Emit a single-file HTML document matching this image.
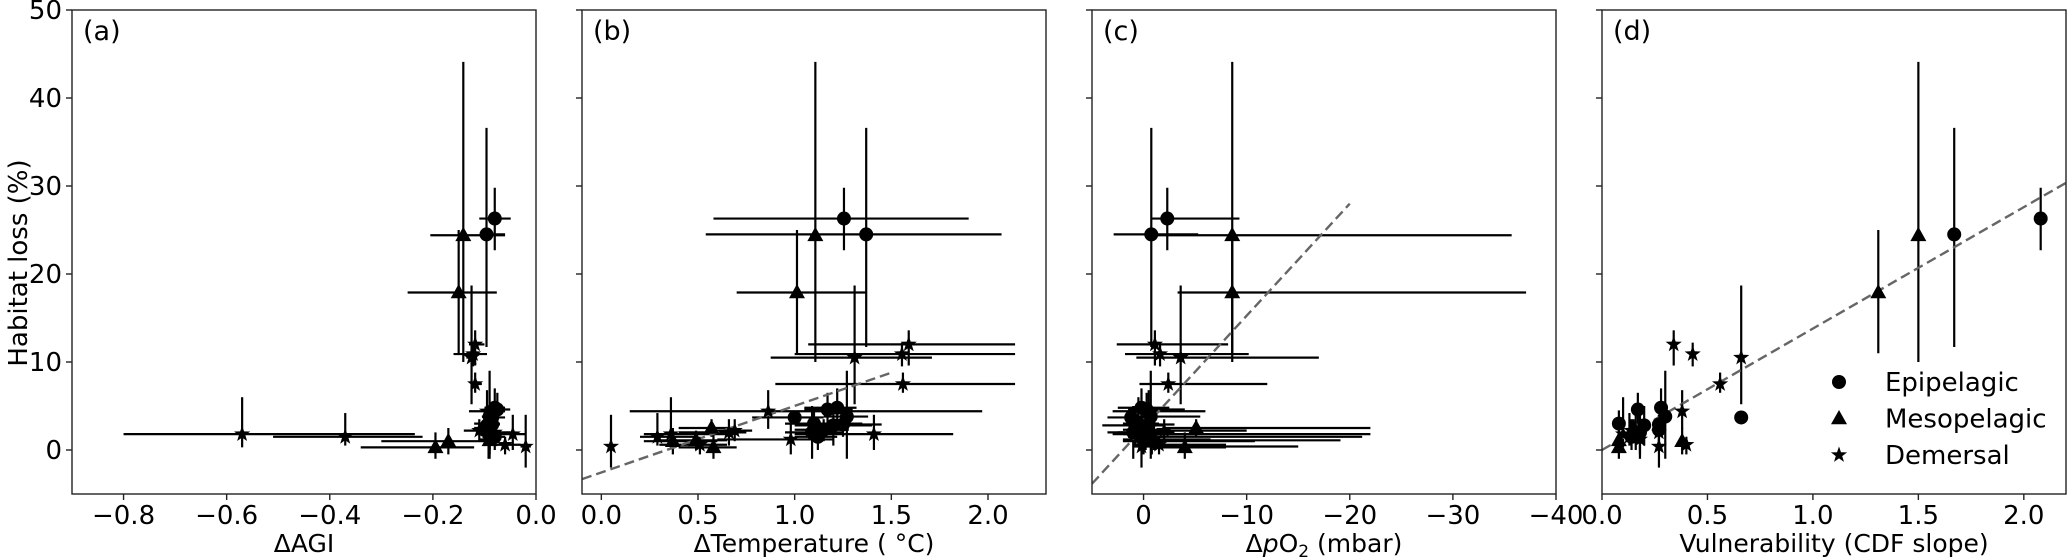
<!DOCTYPE html>
<html><head><meta charset="utf-8"><style>
html,body{margin:0;padding:0;background:#fff;}
svg{display:block;font-family:"DejaVu Sans","Liberation Sans",sans-serif;}
</style></head><body>
<svg id="chart" width="2067" height="559" viewBox="0 0 2067 559" xmlns="http://www.w3.org/2000/svg">
<text x="0" y="0" font-size="26" text-anchor="middle" transform="translate(27,263) rotate(-90)">Habitat loss (%)</text>
</svg>
<script>
// ---- data ----
const types = ['E','E','M','M','D','D','D','D','D','E','E','E','E','E','E','E','E','E','E','M','M','M','M','D','D','D','D','D','D','D','D'];
const loss   = [26.3,24.5,24.4,17.9,12.0,10.9,10.5,7.5,4.4,3.7,3.0,4.6,2.8,2.9,4.8,3.8,2.3,2.0,1.5,0.3,1.0,2.5,1.1,1.8,1.5,0.4,1.8,0.6,2.0,1.2,2.2];
const lossLo = [22.7,11.7,10.0,11.0,9.6,9.5,5.2,6.5,2.4,3.0,1.5,3.0,0.5,1.5,2.5,-1.0,1.0,-1.0,0.0,-1.0,-0.5,1.5,0.0,0.3,0.5,-2.0,0.0,-0.5,0.5,-0.5,1.0];
const lossHi = [29.8,36.6,44.1,25.0,13.6,12.2,18.7,8.8,6.8,4.4,4.5,6.5,5.0,4.0,7.0,9.0,3.5,5.0,3.0,2.0,2.5,3.5,2.2,6.0,4.2,4.0,4.0,1.5,3.5,3.0,3.5];
const agi    = [-0.080,-0.096,-0.141,-0.150,-0.118,-0.122,-0.125,-0.118,-0.095,-0.085,-0.090,-0.075,-0.095,-0.085,-0.080,-0.090,-0.100,-0.092,-0.080,-0.195,-0.170,-0.100,-0.090,-0.570,-0.370,-0.020,-0.045,-0.060,-0.080,-0.090,-0.110];
const agiLo  = [-0.110,-0.105,-0.205,-0.249,-0.130,-0.160,-0.135,-0.125,-0.130,-0.100,-0.120,-0.090,-0.110,-0.100,-0.100,-0.105,-0.120,-0.110,-0.100,-0.340,-0.300,-0.120,-0.110,-0.800,-0.510,-0.030,-0.080,-0.080,-0.100,-0.110,-0.140];
const agiHi  = [-0.049,-0.060,-0.060,-0.076,-0.100,-0.095,-0.115,-0.105,-0.060,-0.060,-0.070,-0.050,-0.080,-0.070,-0.060,-0.075,-0.080,-0.075,-0.060,-0.120,-0.100,-0.080,-0.070,-0.235,-0.220,-0.010,-0.020,-0.030,-0.050,-0.070,-0.080];
const temp   = [1.255,1.37,1.107,1.012,1.59,1.555,1.31,1.56,0.863,1.00,1.10,1.17,1.20,1.25,1.22,1.27,1.15,1.09,1.12,0.58,0.37,0.57,0.49,0.36,0.29,0.05,1.41,0.51,0.66,0.98,0.69];
const tempLo = [0.58,0.54,1.08,0.70,1.07,1.00,0.876,0.90,0.147,0.78,0.95,1.05,1.00,1.10,1.05,1.15,1.00,0.95,1.00,0.40,0.22,0.40,0.30,0.22,0.20,0.05,1.00,0.30,0.40,0.60,0.55];
const tempHi = [1.90,2.07,1.13,1.37,2.14,2.14,1.71,2.14,1.97,1.15,1.35,1.30,1.40,1.45,1.32,1.38,1.28,1.25,1.22,0.70,0.60,0.70,0.65,0.68,0.50,0.05,1.82,0.65,0.75,1.20,0.78];
const po2    = [-2.3,-0.75,-8.6,-8.6,-1.1,-1.6,-3.6,-2.4,-0.5,1.2,0.5,-0.3,0.8,-0.5,0.2,-0.7,0.4,1.0,0.3,-4.0,-0.8,-5.1,-0.2,0.5,-0.3,0.2,-1.0,-1.5,0.8,0.0,-2.0];
const po2Lo  = [-0.75,2.9,-1.0,-3.3,2.6,1.8,0.7,0.4,3.0,3.5,2.0,1.5,4.0,1.0,2.5,1.5,2.0,3.5,1.5,-1.0,2.0,-2.0,2.0,3.0,1.5,1.0,2.0,1.0,2.5,2.0,1.0];
const po2Hi  = [-9.3,-5.3,-35.7,-37.1,-8.2,-10.2,-17.0,-12.0,-6.0,-1.0,-1.5,-4.0,-2.0,-3.0,-2.5,-5.5,-1.5,-0.5,-2.0,-8.0,-10.8,-22.0,-19.1,-5.0,-21.2,-15.0,-22.0,-8.0,-3.0,-6.5,-10.0];
const vuln   = [2.08,1.67,1.50,1.31,0.34,0.43,0.66,0.56,0.38,0.66,0.08,0.17,0.20,0.27,0.28,0.30,0.27,0.18,0.14,0.08,0.38,0.15,0.08,0.10,0.13,0.27,0.16,0.40,0.27,0.18,0.14];
const yTicks = [0,10,20,30,40,50];
const xTicksA = [-0.8,-0.6,-0.4,-0.2,0.0];
const xTicksB = [0.0,0.5,1.0,1.5,2.0];
const xTicksC = [0,-10,-20,-30,-40];
const xTicksD = [0.0,0.5,1.0,1.5,2.0];
const fitB = [-2.55, 7.56]; const fitBRange = [-0.1, 1.5];
const fitC = [2.53, -1.273]; const fitCRange = [5, -20];
const fitD = [0.0, 13.8];   const fitDRange = [0.0, 2.2];
const legendLabels = ['Epipelagic','Mesopelagic','Demersal'];

// ---- drawing ----
const NS = 'http://www.w3.org/2000/svg';
const svg = document.getElementById('chart');
const TOP = 10, BOT = 494, W = 464, YMIN = -5, YMAX = 50;
function ys(v){ return BOT - (v - YMIN) / (YMAX - YMIN) * (BOT - TOP); }
function mk(tag, attrs, parent){ const e = document.createElementNS(NS, tag); for (const k in attrs) e.setAttribute(k, attrs[k]); (parent || svg).appendChild(e); return e; }
function fmt(v, dec){ const s = Math.abs(v).toFixed(dec); return (v < 0 ? '\u2212' : '') + s; }
function marker(t, cx, cy, g){
  let e;
  if (t === 'E') { e = mk('circle', {cx: cx, cy: cy, r: 7, fill: '#000'}, g); }
  else if (t === 'M') { e = mk('polygon', {points: `${cx},${cy-8.5} ${cx+8},${cy+5.8} ${cx-8},${cy+5.8}`, fill: '#000'}, g); }
  else { let p = []; for (let i = 0; i < 10; i++) { const r = i % 2 ? 3.4 : 8.5; const a = -Math.PI/2 + i*Math.PI/5; p.push((cx + r*Math.cos(a)).toFixed(1) + ',' + (cy + r*Math.sin(a)).toFixed(1)); } e = mk('polygon', {points: p.join(' '), fill: '#000'}, g); }
  return e;
}
const panels = [
  {key:'a', left:72,   xmin:-0.9, xmax:0.0, x:agi,  lo:agiLo,  hi:agiHi,  ticks:xTicksA, dec:1, title:'\u0394AGI', fit:null},
  {key:'b', left:582,  xmin:-0.1, xmax:2.3, x:temp, lo:tempLo, hi:tempHi, ticks:xTicksB, dec:1, title:'\u0394Temperature ( \u00B0C)', fit:fitB, fr:fitBRange},
  {key:'c', left:1092, xmin:5,    xmax:-40, x:po2,  lo:po2Lo,  hi:po2Hi,  ticks:xTicksC, dec:0, title:null, fit:fitC, fr:fitCRange},
  {key:'d', left:1602, xmin:0.0,  xmax:2.2, x:vuln, lo:null,   hi:null,   ticks:xTicksD, dec:1, title:'Vulnerability (CDF slope)', fit:fitD, fr:fitDRange}
];
panels.forEach((p, pi) => {
  const xs = v => p.left + (v - p.xmin) / (p.xmax - p.xmin) * W;
  const g = mk('g', {});
  
  
  const cp = mk('clipPath', {id: 'clip' + p.key}, g);
  mk('rect', {x: p.left, y: TOP, width: W, height: BOT - TOP}, cp);
  const plot = mk('g', {'clip-path': `url(#clip${p.key})`}, g);
  
  
  for (let i = 0; i < loss.length; i++) {
    const cx = xs(p.x[i]), cy = ys(loss[i]);
    const vb = mk('line', {x1: cx, x2: cx, y1: ys(lossLo[i]), y2: ys(lossHi[i]), stroke: '#000', 'stroke-width': 2.2}, plot);
    
    
    if (p.lo) {
      const hb = mk('line', {x1: xs(p.lo[i]), x2: xs(p.hi[i]), y1: cy, y2: cy, stroke: '#000', 'stroke-width': 2.2}, plot);
      
      
    }
  }
  if (p.fit) {
    const fl = mk('line', {x1: xs(p.fr[0]), y1: ys(p.fit[0] + p.fit[1]*p.fr[0]), x2: xs(p.fr[1]), y2: ys(p.fit[0] + p.fit[1]*p.fr[1]), stroke: '#666', 'stroke-width': 2.4, 'stroke-dasharray': '10,5'}, plot);
    
    
  }
  for (let i = 0; i < loss.length; i++) {
    const m = marker(types[i], xs(p.x[i]), ys(loss[i]), plot);
    
    
  }
  const fr = mk('rect', {x: p.left, y: TOP, width: W, height: BOT - TOP, fill: 'none', stroke: '#222', 'stroke-width': 1.4}, g);
  
  
  yTicks.forEach(v => {
    const t = mk('line', {x1: p.left - 6, x2: p.left, y1: ys(v), y2: ys(v), stroke: '#222', 'stroke-width': 1.4}, g);
    
    
    if (pi === 0) {
      const tl = mk('text', {x: p.left - 10, y: ys(v) + 9, 'font-size': 26, 'text-anchor': 'end'}, g);
      tl.textContent = String(v);
      
      
    }
  });
  p.ticks.forEach(v => {
    const x = xs(v);
    const t = mk('line', {x1: x, x2: x, y1: BOT, y2: BOT + 6, stroke: '#222', 'stroke-width': 1.4}, g);
    
    
    const tl = mk('text', {x: x, y: 524, 'font-size': 26, 'text-anchor': 'middle'}, g);
    tl.textContent = fmt(v, p.dec);
    
    
  });
  const pl = mk('text', {x: p.left + 11, y: 40, 'font-size': 27}, g);
  pl.textContent = '(' + p.key + ')';
  
  
  const xt = mk('text', {x: p.left + W/2, y: 552, 'font-size': 25, 'text-anchor': 'middle'}, g);
  
  
  if (p.title) xt.textContent = p.title;
  else {
    xt.textContent = '\u0394';
    const it = mk('tspan', {'font-style': 'italic'}, xt); it.textContent = 'p';
    const o = mk('tspan', {}, xt); o.textContent = 'O';
    const sub = mk('tspan', {'font-size': 17, dy: 5}, xt); sub.textContent = '2';
    const rest = mk('tspan', {dy: -5}, xt); rest.textContent = ' (mbar)';
  }
});
const lg = mk('g', {});


['E','M','D'].forEach((t, i) => {
  const cy = 382 + i*36.5;
  const m = marker(t, 1839, cy, lg);
  
  
  const tx = mk('text', {x: 1885, y: cy + 9, 'font-size': 26}, lg);
  tx.textContent = legendLabels[i];
  
  
});
</script>
</body></html>
